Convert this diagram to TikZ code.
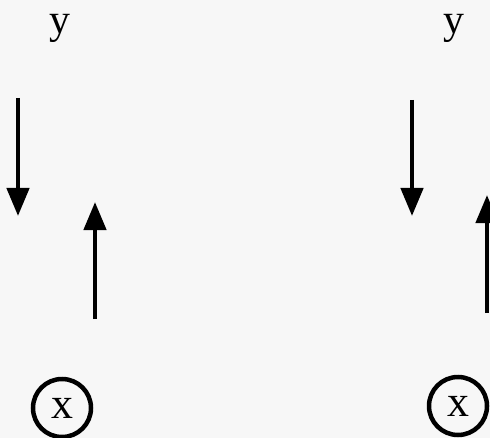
\documentclass[tikz,border=0pt]{standalone}
\usepackage{fontspec}
\setmainfont{Liberation Serif}
\usetikzlibrary{arrows.meta}
\tikzset{
  lbl/.style={font=\fontsize{42}{42}\selectfont, inner sep=0pt, anchor=base},
  circ/.style={circle, draw, line width=4.5bp, minimum size=58bp, inner sep=0pt, font=\fontsize{44}{44}\selectfont},
  vec/.style={line width=4.5bp, -{Triangle[width=22bp,length=28bp]}}
}
\begin{document}
\begin{tikzpicture}[x=1bp,y=-1bp]
\path[fill=black!3] (0,0) rectangle (490,438);
\useasboundingbox (0,0) rectangle (490,438);
\node[lbl] (yL) at (60,34) {y};
\node[lbl] (yR) at (454,34) {y};
\node[circ] (xL) at (62,408) {x};
\node[circ] (xR) at (458,406) {x};
\coordinate (aLs) at (18,98);
\coordinate (aLe) at (18,216);
\coordinate (bLs) at (95,319);
\coordinate (bLe) at (95,202);
\coordinate (aRs) at (412,100);
\coordinate (aRe) at (412,216);
\coordinate (bRs) at (487,313);
\coordinate (bRe) at (487,195);
\draw[vec] (aLs) -- (aLe);
\draw[vec] (bLs) -- (bLe);
\draw[vec] (aRs) -- (aRe);
\draw[vec] (bRs) -- (bRe);
\end{tikzpicture}
\end{document}
